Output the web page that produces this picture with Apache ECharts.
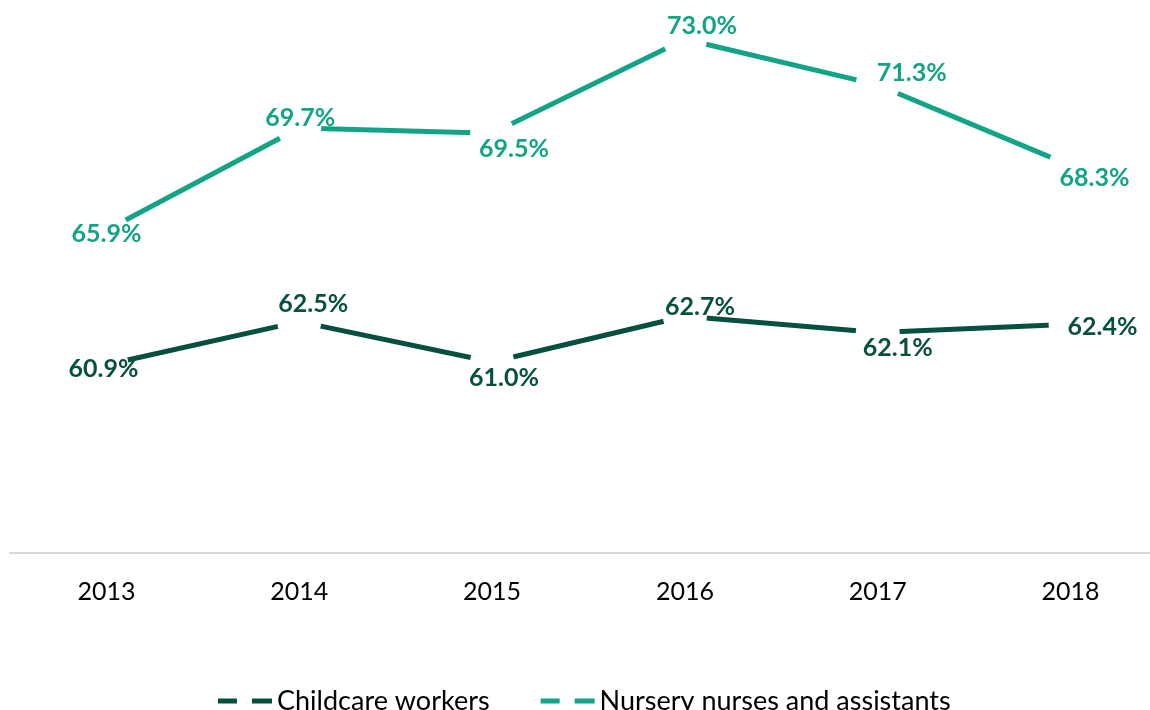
<!DOCTYPE html>
<html>
<head>
<meta charset="utf-8">
<script src="https://cdn.jsdelivr.net/npm/echarts@6/dist/echarts.min.js"></script>
<style>
  html, body { margin: 0; padding: 0; background: #fff; }
  #chart { width: 1150px; height: 710px; }
</style>
</head>
<body>
<div id="chart"></div>
<script>
// data
const years = ['2013', '2014', '2015', '2016', '2017', '2018']
const childcareWorkers = [60.9, 62.5, 61.0, 62.7, 62.1, 62.4]
const nurseryNurses = [65.9, 69.7, 69.5, 73.0, 71.3, 68.3]

// label nudges (px) so the labels sit where the original has them
const childcareLabelOffsets = [[-3, 4], [14, -18], [12, 16], [15, -9], [20, 16], [32, 3]]
const nurseryLabelOffsets = [[0, 4], [1, -10], [22, 16], [17, -13], [34, -12], [24, 12]]

const darkGreen = '#07503f'
const teal = '#13a386'
const fontFamily = 'Lato, "Open Sans", sans-serif'

function buildData(values, offsets) {
    return values.map((v, i) => ({
        value: v,
        label: { offset: offsets[i] }
    }))
}

function lineSeries(name, values, offsets, color) {
    return {
        name: name,
        type: 'line',
        data: buildData(values, offsets),
        lineStyle: { color: color, width: 5, cap: 'butt' },
        // white marker leaves the gap around each point, like the original
        symbol: 'circle',
        symbolSize: 44,
        itemStyle: { color: '#fff', borderWidth: 0 },
        emphasis: { disabled: true },
        label: {
            show: true,
            position: 'inside',
            color: color,
            fontFamily: fontFamily,
            fontWeight: 'bold',
            fontSize: 25,
            formatter: p => p.value.toFixed(1) + '%'
        },
        animation: false
    }
}

const chart = echarts.init(document.getElementById('chart'))

chart.setOption({
    backgroundColor: '#fff',
    grid: {
        left: 10,
        right: -17,
        top: 15,
        bottom: 157,
        outerBoundsMode: 'none'
    },
    xAxis: {
        type: 'category',
        data: years,
        boundaryGap: true,
        axisLine: { lineStyle: { color: '#d9d9d9', width: 2 } },
        axisTick: { show: false },
        axisLabel: {
            color: '#000',
            fontFamily: fontFamily,
            fontSize: 25,
            margin: 26
        }
    },
    yAxis: {
        type: 'value',
        min: 53.9,
        max: 73.9,
        show: false,
        splitLine: { show: false }
    },
    legend: {
        left: 213,
        top: 681,
        itemWidth: 54,
        itemHeight: 5,
        itemGap: 51,
        symbolKeepAspect: false,
        icon: 'path://M0,0h19v5h-19z M34,0h20v5h-20z',
        textStyle: {
            color: '#000',
            fontFamily: fontFamily,
            fontSize: 27,
            lineHeight: 30
        },
        data: [
            { name: 'Childcare workers', itemStyle: { color: darkGreen } },
            { name: 'Nursery nurses and assistants', itemStyle: { color: teal } }
        ]
    },
    series: [
        lineSeries('Childcare workers', childcareWorkers, childcareLabelOffsets, darkGreen),
        lineSeries('Nursery nurses and assistants', nurseryNurses, nurseryLabelOffsets, teal)
    ]
})
</script>
</body>
</html>
